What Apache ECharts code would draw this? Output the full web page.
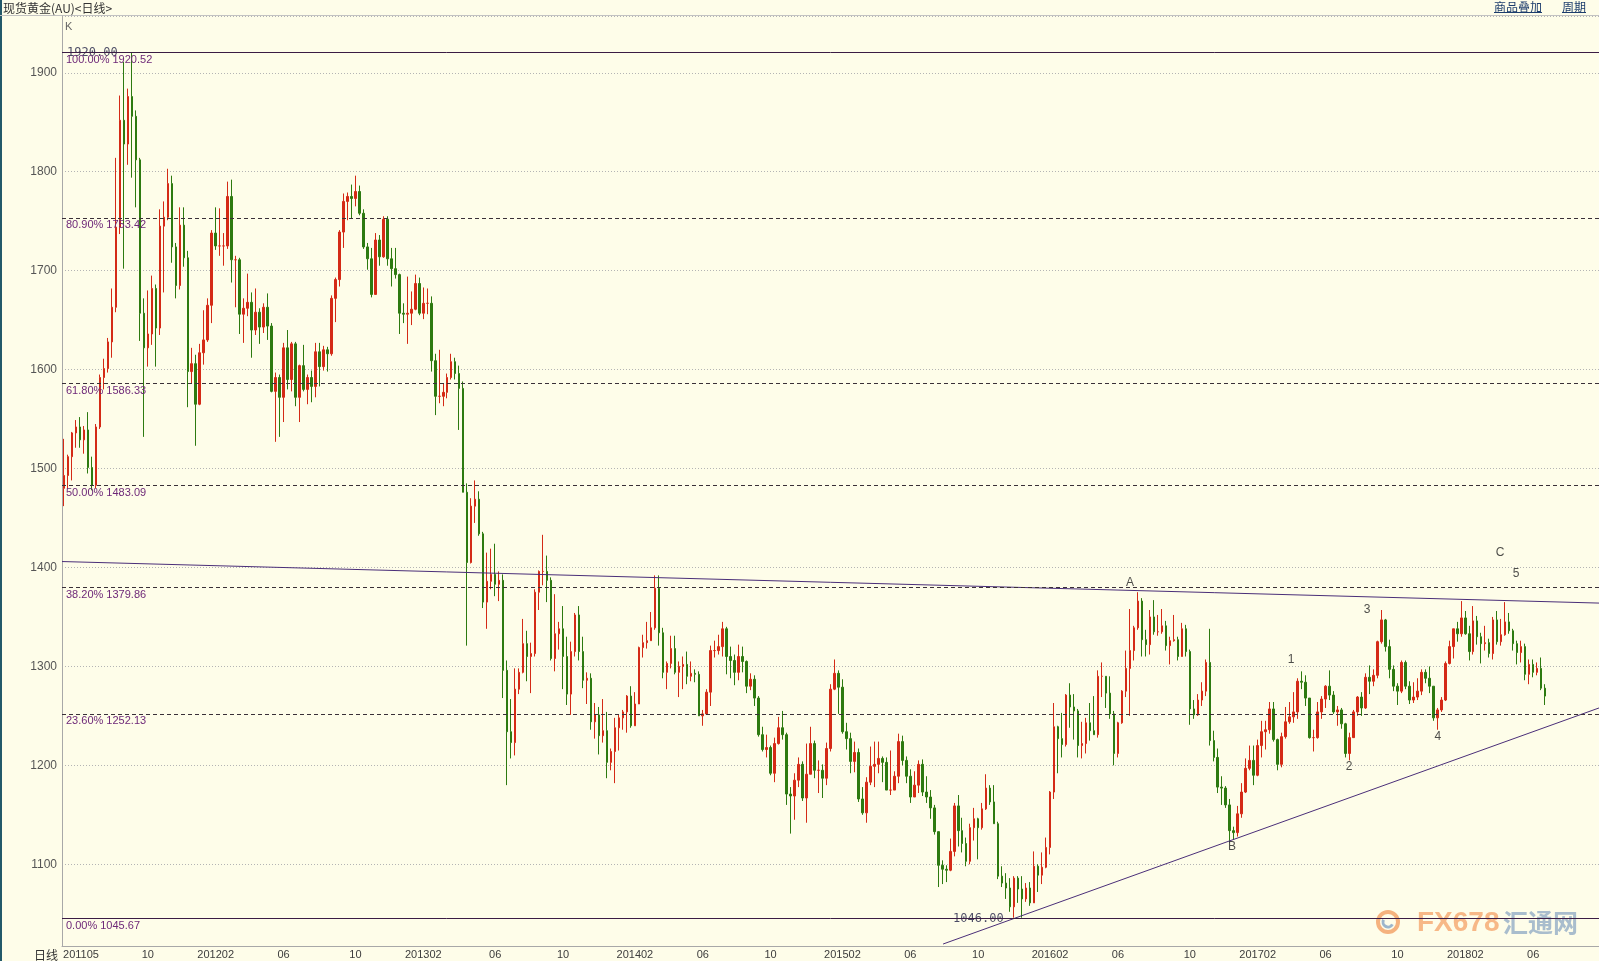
<!DOCTYPE html>
<html><head><meta charset="utf-8">
<script src="https://cdn.jsdelivr.net/npm/echarts@6/dist/echarts.min.js"></script>
<style>html,body{margin:0;padding:0;background:#fefde9;}#c{width:1599px;height:961px;}</style>
</head><body><div id="c"></div>
<script>
// ---------- DATA (weekly OHLC, weeks ending on Fridays from 2011-05-13) ----------
const weeklyOpen = [
1480,1493,1512,1536,1542,1529,1539,1501,1483,1542,1592,1601,1628,1663,1744,1852,1828,1876,1856,1812,1657,1622,1636,1682,1642,1745,1754,1788,1724,1685,1746,1713,1598,1606,
1565,1617,1630,1665,1738,1725,1725,1725,1775,1711,1711,1656,1662,1668,1640,1658,1643,1663,1644,1578,1592,1572,1622,1590,1626,1572,1604,1580,1592,1583,1618,1603,1620,1616,1672,1691,1739,1770,1775,1773,1780,1758,1724,1712,1676,1731,1714,1752,1712,1702,1696,1657,
1656,1657,1661,1687,1657,1667,1667,1609,1573,1573,1577,1592,1608,1596,1581,1476,1405,1462,1469,1434,1365,1386,1393,1383,1387,1296,1234,1223,1277,1294,1323,1310,1313,1375,1396,1396,1387,1308,1333,1338,1310,1272,1315,1352,1315,1286,1288,1244,1251,1230,1235,1203,
1214,1238,1248,1254,1270,1240,1262,1319,1324,1326,1339,1379,1334,1294,1303,1318,1294,1300,1302,1290,1293,1292,1250,1252,1274,1316,1316,1320,1338,1310,1306,1294,1310,1305,1280,1287,1268,1231,1216,1218,1192,1222,1238,1231,1171,1169,1185,1201,1167,1191,1222,1195,
1195,1187,1217,1277,1293,1279,1234,1227,1204,1213,1166,1152,1183,1199,1201,1207,1203,1175,1175,1189,1224,1205,1189,1168,1180,1201,1173,1168,1157,1133,1099,1095,1094,1113,1159,1134,1121,1103,1137,1146,1137,1156,1177,1163,1141,1088,1081,1076,1057,1086,1075,1065,
1076,1061,1098,1089,1097,1117,1173,1239,1227,1221,1271,1259,1255,1220,1222,1243,1235,1231,1290,1290,1273,1252,1212,1243,1275,1298,1316,1339,1366,1327,1322,1350,1335,1335,1341,1321,1326,1327,1310,1338,1315,1257,1251,1266,1275,1304,1225,1208,1178,1177,1160,1134,1132,
1151,1173,1197,1205,1190,1220,1234,1236,1257,1226,1201,1229,1244,1249,1254,1285,1284,1268,1228,1228,1254,1267,1280,1271,1254,1256,1242,1212,1228,1254,1269,1258,1289,1285,1291,1325,1347,1320,1297,1280,1275,1304,1280,1266,1269,1275,1294,1288,1280,1248,1256,1266,
1303,1320,1338,1333,1349,1333,1315,1346,1330,1323,1324,1313,1347,1325,1332,1345,1336,1323,1314,1320,1292,1302,1294,1298,1278];
const weeklyClose = [
1493,1512,1536,1542,1529,1539,1501,1483,1542,1592,1601,1628,1663,1744,1852,1828,1876,1856,1812,1657,1622,1636,1682,1642,1745,1754,1788,1724,1685,1746,1713,1598,1606,1565,
1617,1630,1665,1738,1725,1725,1725,1775,1711,1711,1656,1662,1668,1640,1658,1643,1663,1644,1578,1592,1572,1622,1590,1626,1572,1604,1580,1592,1583,1618,1603,1620,1616,1672,1691,1739,1770,1775,1773,1780,1758,1724,1712,1676,1731,1714,1752,1712,1702,1696,1657,1656,
1657,1661,1687,1657,1667,1667,1609,1573,1573,1577,1592,1608,1596,1581,1476,1405,1462,1469,1434,1365,1386,1393,1383,1387,1296,1234,1223,1277,1294,1323,1310,1313,1375,1396,1396,1387,1308,1333,1338,1310,1272,1315,1352,1315,1286,1288,1244,1251,1230,1235,1203,1214,
1238,1248,1254,1270,1240,1262,1319,1324,1326,1339,1379,1334,1294,1303,1318,1294,1300,1302,1290,1293,1292,1250,1252,1274,1316,1316,1320,1338,1310,1306,1294,1310,1305,1280,1287,1268,1231,1216,1218,1192,1222,1238,1231,1171,1169,1185,1201,1167,1191,1222,1195,1195,
1187,1217,1277,1293,1279,1234,1227,1204,1213,1166,1152,1183,1199,1201,1207,1203,1175,1175,1189,1224,1205,1189,1168,1180,1201,1173,1168,1157,1133,1099,1095,1094,1113,1159,1134,1121,1103,1137,1146,1137,1156,1177,1163,1141,1088,1081,1076,1057,1086,1075,1065,1076,
1061,1098,1089,1097,1117,1173,1239,1227,1221,1271,1259,1255,1220,1222,1243,1235,1231,1290,1290,1273,1252,1212,1243,1275,1298,1316,1339,1366,1327,1322,1350,1335,1335,1341,1321,1326,1327,1310,1338,1315,1257,1251,1266,1275,1304,1225,1208,1178,1177,1160,1134,1132,1151,
1173,1197,1205,1190,1220,1234,1236,1257,1226,1201,1229,1244,1249,1254,1285,1284,1268,1228,1228,1254,1267,1280,1271,1254,1256,1242,1212,1228,1254,1269,1258,1289,1285,1291,1325,1347,1320,1297,1280,1275,1304,1280,1266,1269,1275,1294,1288,1280,1248,1256,1266,1303,
1320,1338,1333,1349,1333,1315,1346,1330,1323,1324,1313,1347,1325,1332,1345,1336,1323,1314,1320,1292,1302,1294,1298,1278,1270];
const weeklyLow = [
1462,1480,1488,1521,1521,1515,1495,1478,1480,1540,1580,1597,1612,1658,1737,1702,1807,1794,1764,1629,1532,1603,1625,1603,1635,1678,1751,1708,1672,1681,1704,1562,1586,1523,
1564,1605,1628,1647,1721,1715,1705,1722,1688,1663,1636,1627,1654,1612,1635,1626,1637,1630,1577,1527,1532,1547,1580,1578,1563,1547,1578,1565,1567,1572,1583,1599,1598,1614,1648,1684,1723,1751,1753,1765,1756,1722,1701,1673,1676,1705,1713,1705,1684,1692,1636,1647,
1626,1645,1660,1655,1651,1656,1598,1554,1566,1563,1571,1590,1590,1539,1476,1321,1404,1445,1432,1359,1338,1378,1371,1366,1268,1180,1207,1210,1272,1293,1285,1273,1310,1357,1382,1365,1306,1295,1317,1277,1261,1251,1310,1306,1278,1262,1236,1227,1211,1223,1187,1195,
1182,1215,1236,1233,1238,1240,1262,1309,1318,1326,1337,1321,1288,1277,1298,1292,1269,1277,1282,1285,1284,1250,1240,1251,1260,1309,1312,1310,1292,1288,1281,1286,1294,1273,1276,1260,1229,1214,1208,1190,1183,1221,1226,1160,1131,1145,1178,1164,1142,1191,1187,1172,
1167,1180,1214,1276,1252,1232,1216,1192,1193,1163,1150,1142,1180,1178,1192,1183,1175,1170,1175,1182,1200,1182,1162,1168,1172,1169,1162,1146,1130,1077,1080,1082,1093,1108,1118,1112,1098,1100,1124,1105,1135,1155,1160,1141,1085,1077,1065,1052,1046,1061,1046,1062,
1058,1061,1072,1080,1096,1110,1166,1192,1208,1219,1238,1226,1208,1207,1212,1225,1231,1228,1269,1258,1247,1200,1208,1242,1269,1250,1306,1337,1310,1310,1312,1332,1331,1333,1316,1302,1325,1306,1310,1310,1241,1247,1250,1260,1270,1220,1204,1172,1160,1157,1122,1125,1128,
1147,1172,1195,1180,1189,1208,1216,1232,1224,1195,1198,1227,1242,1243,1247,1277,1260,1227,1214,1227,1247,1258,1266,1252,1240,1237,1208,1205,1228,1250,1250,1257,1272,1280,1288,1323,1315,1288,1275,1261,1273,1277,1262,1263,1266,1271,1283,1273,1245,1236,1254,1265,
1302,1308,1325,1330,1332,1306,1312,1322,1303,1316,1309,1307,1322,1321,1331,1333,1316,1302,1304,1286,1282,1289,1291,1276,1261];
const weeklyHigh = [
1530,1514,1537,1549,1552,1543,1557,1512,1545,1595,1611,1632,1682,1814,1877,1911,1884,1921,1862,1814,1672,1680,1695,1686,1762,1770,1803,1796,1728,1764,1764,1720,1622,1615,
1626,1660,1672,1741,1764,1763,1738,1790,1792,1715,1713,1672,1697,1678,1682,1662,1667,1677,1647,1597,1595,1627,1640,1628,1628,1605,1625,1595,1599,1627,1627,1624,1623,1675,1693,1741,1778,1779,1787,1796,1786,1762,1728,1723,1738,1736,1755,1755,1723,1723,1697,1667,
1694,1679,1696,1693,1683,1682,1674,1616,1620,1586,1596,1616,1612,1604,1588,1485,1470,1488,1477,1436,1415,1419,1424,1396,1393,1306,1267,1298,1298,1348,1336,1324,1378,1397,1433,1412,1390,1373,1345,1361,1330,1325,1354,1361,1330,1294,1293,1263,1259,1267,1254,1217,
1248,1251,1256,1271,1280,1274,1320,1332,1345,1355,1392,1392,1339,1305,1331,1331,1305,1310,1315,1305,1297,1295,1256,1277,1321,1326,1332,1345,1340,1320,1312,1322,1320,1306,1293,1291,1270,1239,1231,1220,1228,1249,1255,1233,1178,1192,1208,1204,1222,1239,1225,1205,
1201,1223,1282,1307,1296,1287,1243,1233,1224,1217,1178,1188,1219,1224,1224,1209,1208,1215,1194,1232,1230,1209,1196,1194,1205,1206,1189,1175,1160,1133,1104,1099,1126,1162,1170,1147,1127,1141,1157,1147,1162,1191,1180,1180,1143,1098,1091,1086,1088,1088,1088,1081,
1082,1113,1100,1112,1127,1174,1263,1240,1253,1272,1283,1272,1257,1244,1248,1263,1270,1296,1304,1290,1290,1255,1244,1276,1316,1358,1341,1375,1369,1337,1357,1367,1352,1358,1346,1330,1352,1330,1344,1342,1317,1266,1272,1284,1307,1338,1235,1217,1189,1179,1166,1138,1159,
1182,1207,1220,1220,1226,1245,1245,1264,1264,1227,1233,1259,1264,1274,1288,1295,1291,1268,1236,1264,1270,1281,1296,1275,1260,1258,1243,1233,1256,1270,1274,1293,1301,1297,1326,1357,1348,1327,1301,1283,1306,1306,1285,1284,1288,1297,1297,1300,1280,1258,1269,1305,
1326,1338,1345,1366,1356,1341,1361,1351,1334,1341,1328,1350,1356,1348,1365,1354,1338,1326,1326,1323,1307,1307,1304,1309,1282];

// x-axis tick labels (first weekly bar of the month)
const tickLabels = [
 ['2011-05-13','201105'],['2011-10-07','10'],['2012-02-03','201202'],['2012-06-01','06'],['2012-10-05','10'],
 ['2013-02-01','201302'],['2013-06-07','06'],['2013-10-04','10'],['2014-02-07','201402'],['2014-06-06','06'],['2014-10-03','10'],
 ['2015-02-06','201502'],['2015-06-05','06'],['2015-10-02','10'],['2016-02-05','201602'],['2016-06-03','06'],['2016-10-07','10'],
 ['2017-02-03','201702'],['2017-06-02','06'],['2017-10-06','10'],['2018-02-02','201802'],['2018-06-01','06']];

// Fibonacci retracement levels
const fibPercents = ['100.00%','80.90%','61.80%','50.00%','38.20%','23.60%','0.00%'];
const fibValues = [1920.52,1753.42,1586.33,1483.09,1379.86,1252.13,1045.67];

// trend lines, in [week slot, price]
const trendDown = [[0,1406],[385,1364]];
const trendUp = [[220.7,1019.4],[385,1258]];

// wave annotations [week slot, price, text]
const waveLabels = [[267.5,1384.6,'A'],[293.1,1117.5,'B'],[307.9,1306.5,'1'],[322.4,1198.6,'2'],[326.9,1357,'3'],[344.6,1229,'4'],[364.2,1393.4,'5'],[360.2,1415.3,'C']];
const priceNotes = [[1.25,1920.0,'1920.00'],[223.2,1045.2,'1046.00']];

// ---------- build ----------
const SLOTS = 385;
const weekCategories = [];
const t0 = Date.UTC(2011,4,13);
for (let i=0;i<SLOTS;i++){ weekCategories.push(new Date(t0+i*7*86400000).toISOString().slice(0,10)); }
const tickMap = new Map(tickLabels);
const ohlc = weeklyOpen.map((o,i)=>[o, weeklyClose[i], weeklyLow[i], weeklyHigh[i]]);

const chart = echarts.init(document.getElementById('c'));
const purple = '#6e2878';
chart.setOption({
  backgroundColor:'#fefde9',
  animation:false,
  grid:{left:62,right:0,top:16,bottom:15},
  xAxis:[{
    type:'category', data:weekCategories, boundaryGap:true,
    axisLine:{lineStyle:{color:'#a8a8a8'}}, axisTick:{show:false}, splitLine:{show:false},
    axisLabel:{
      interval:(i,v)=>tickMap.has(v),
      formatter:(v,i)=> i===0 ? '{first|'+tickMap.get(v)+'}' : (tickMap.get(v)||''),
      color:'#3c3c3c', fontSize:11, fontFamily:'Liberation Sans', margin:3,
      rich:{first:{padding:[0,0,0,34], color:'#3c3c3c', fontSize:11, fontFamily:'Liberation Sans'}}
    }
  },{type:'value', min:0, max:SLOTS, show:false}],
  yAxis:{
    type:'value', min:1017.4, max:1957.4, splitNumber:9,
    axisLine:{show:true, lineStyle:{color:'#a8a8a8'}}, axisTick:{show:false},
    axisLabel:{color:'#555', fontSize:12, fontFamily:'Liberation Sans', margin:5, showMinLabel:false, showMaxLabel:false, formatter:v=>String(v)},
    splitLine:{lineStyle:{color:'#b4b4b4', type:[1,2]}}
  },
  series:[
    {type:'candlestick', xAxisIndex:0, yAxisIndex:0, data:ohlc, barWidth:2,
     itemStyle:{color:'#d42a16', color0:'#2d7a10', borderColor:'#d42a16', borderColor0:'#2d7a10', borderWidth:1},
     markLine:{silent:true, symbol:['none','none'], animation:false,
       data: fibValues.map((v,i)=>({
         yAxis:v,
         lineStyle:{color:(i===0||i===fibValues.length-1)?'#3b1c44':'#3a3038', width:1, type:(i===0||i===fibValues.length-1)?'solid':[4,3]},
         label:{show:true, position:'insideStartBottom', formatter: fibPercents[i]+' '+v.toFixed(2), color:purple, fontSize:11, fontFamily:'Liberation Sans', distance:[4,2]}
       }))
     }},
    {type:'line', xAxisIndex:1, yAxisIndex:0, data:trendDown, showSymbol:false, silent:true, lineStyle:{color:'#4a2e78', width:1}},
    {type:'line', xAxisIndex:1, yAxisIndex:0, data:trendUp, showSymbol:false, silent:true, lineStyle:{color:'#4a2e78', width:1}},
    {type:'scatter', xAxisIndex:1, yAxisIndex:0, data:waveLabels, symbolSize:0.1, itemStyle:{color:'rgba(0,0,0,0)'}, silent:true,
     label:{show:true, position:'inside', formatter:p=>p.data[2], color:'#222', fontSize:12, fontFamily:'Liberation Sans'}},
    {type:'scatter', xAxisIndex:1, yAxisIndex:0, data:priceNotes, symbolSize:0.1, itemStyle:{color:'rgba(0,0,0,0)'}, silent:true,
     label:{show:true, position:'right', distance:0, formatter:p=>p.data[2], color:'#1e1e44', fontSize:12, fontFamily:'DejaVu Sans Mono'}}
  ],
  graphic:[
    {type:'rect', left:0, top:0, shape:{width:2, height:961}, style:{fill:'#23596a'}, silent:true},
    {type:'line', shape:{x1:0,y1:15.5,x2:1599,y2:15.5}, style:{stroke:'#c2c2c2', lineWidth:1}, silent:true},
    {type:'text', x:3, y:8, style:{text:'现货黄金(AU)<日线>', fill:'#333', font:'12px "Noto Sans CJK SC"', verticalAlign:'middle'}},
    {type:'text', x:1494, y:7, style:{text:'商品叠加', fill:'#1c3c6c', font:'12px "Noto Sans CJK SC"', verticalAlign:'middle'}},
    {type:'line', shape:{x1:1494,y1:12.5,x2:1542,y2:12.5}, style:{stroke:'#1c3c6c', lineWidth:1}},
    {type:'text', x:1562, y:7, style:{text:'周期', fill:'#1c3c6c', font:'12px "Noto Sans CJK SC"', verticalAlign:'middle'}},
    {type:'line', shape:{x1:1562,y1:12.5,x2:1586,y2:12.5}, style:{stroke:'#1c3c6c', lineWidth:1}},
    {type:'text', x:65, y:27, style:{text:'K', fill:'#666', font:'11px "Liberation Sans"', verticalAlign:'middle'}},
    {type:'text', x:58, y:955, style:{text:'日线', fill:'#333', font:'12px "Noto Sans CJK SC"', verticalAlign:'middle', align:'right'}},
    {type:'group', silent:true, children:[
      {type:'circle', shape:{cx:1388, cy:922, r:10}, style:{fill:'none', stroke:'#f5b27e', lineWidth:4}},
      {type:'arc', shape:{cx:1388, cy:922, r:5, startAngle:0.5, endAngle:3.6}, style:{fill:'none', stroke:'#9db6cc', lineWidth:3}},
      {type:'text', x:1417, y:923, style:{text:'FX678', fill:'#f6b07c', font:'bold 28px "Liberation Sans Narrow", "Liberation Sans"', verticalAlign:'middle', opacity:0.9}},
      {type:'text', x:1503, y:922, style:{text:'汇通网', fill:'#a0b6ca', font:'bold 25px "Noto Sans CJK SC"', verticalAlign:'middle', opacity:0.9}}
    ]}
  ]
});
</script></body></html>
